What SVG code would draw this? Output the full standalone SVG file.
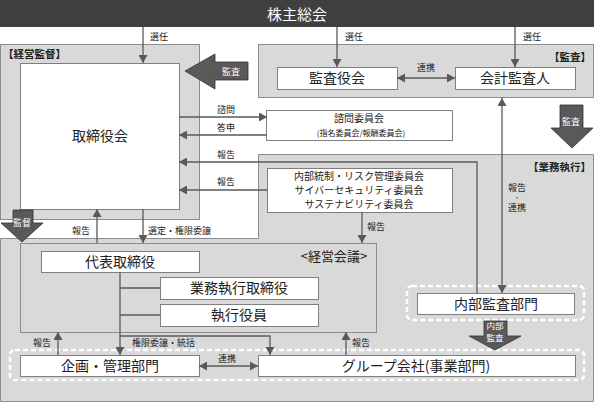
<svg xmlns="http://www.w3.org/2000/svg" width="595" height="403" viewBox="0 0 595 403">
<defs>
<marker id="ah" markerUnits="userSpaceOnUse" markerWidth="9" markerHeight="9" refX="8" refY="4.5" orient="auto-start-reverse"><path d="M0,0 L8,4.5 L0,9 z" fill="#595959"/></marker>
<style>
text{font-family:"Noto Sans CJK JP","Noto Sans",sans-serif;fill:#222;}
.grp{fill:#d9d9d9;stroke:#8c8c8c;stroke-width:1;}
.box{fill:#fff;stroke:#7f7f7f;stroke-width:1;}
.dash{fill:none;stroke:#fff;stroke-width:2.5;stroke-dasharray:5 3;}
.big{font-size:14px;text-anchor:middle;}
.sm{font-size:9px;}
.mid{font-size:10px;text-anchor:middle;}
.hdr{font-size:10.5px;font-weight:700;}
.con{fill:none;stroke:#595959;stroke-width:1.3;}
.blk{fill:#595959;stroke:#333;stroke-width:0.8;}
.wt{fill:#fff;font-size:9px;text-anchor:middle;}
</style>
</defs>
<rect width="595" height="403" fill="#fff"/>
<g id="shareholders">
<rect x="0" y="0" width="594" height="27" fill="#404040"/>
<text x="297" y="20" style="fill:#fff;font-size:15px;text-anchor:middle">株主総会</text>
</g>
<g id="supervision">
<rect class="grp" x="0.5" y="44.5" width="199" height="175"/>
<text class="hdr" x="3" y="58">【経営監督】</text>
</g>
<g id="audit">
<rect class="grp" x="258.5" y="44.5" width="335" height="53"/>
<text class="hdr" x="591" y="61" style="text-anchor:end">【監査】</text>
</g>
<g id="execution">
<path class="grp" d="M258.5,154.5 H593.5 V401.5 H0.5 V238.5 H258.5 Z"/>
<text class="hdr" x="591" y="171" style="text-anchor:end">【業務執行】</text>
</g>
<g id="board">
<rect class="box" x="20.5" y="63.5" width="159" height="146"/>
<text class="big" x="100" y="141">取締役会</text>
</g>
<g id="auditboard">
<rect class="box" x="277.5" y="67.5" width="120" height="22"/>
<text class="big" x="337" y="83">監査役会</text>
</g>
<g id="accountant">
<rect class="box" x="455.5" y="67.5" width="120" height="22"/>
<text class="big" x="515" y="83">会計監査人</text>
</g>
<g id="advisory">
<rect class="box" x="266.5" y="110.5" width="186" height="30"/>
<text class="mid" x="359" y="122">諮問委員会</text>
<text x="361" y="136" style="font-size:8px;text-anchor:middle">(指名委員会/報酬委員会)</text>
</g>
<g id="committees">
<rect class="box" x="267.5" y="168.5" width="185" height="44"/>
<text class="mid" x="359" y="180">内部統制・リスク管理委員会</text>
<text class="mid" x="359" y="194">サイバーセキュリティ委員会</text>
<text class="mid" x="359" y="208">サステナビリティ委員会</text>
</g>
<g id="mgmtmeeting">
<rect class="grp" x="20.5" y="243.5" width="356" height="89"/>
<text x="334" y="261" style="font-size:13px;text-anchor:middle">&lt;経営会議&gt;</text>
</g>
<g id="president">
<rect class="box" x="41.5" y="251.5" width="158" height="21"/>
<text class="big" x="120" y="267">代表取締役</text>
</g>
<g id="execdirector">
<rect class="box" x="160.5" y="277.5" width="158" height="22"/>
<text class="big" x="239" y="293">業務執行取締役</text>
</g>
<g id="officer">
<rect class="box" x="160.5" y="304.5" width="158" height="22"/>
<text class="big" x="239" y="320">執行役員</text>
</g>
<g id="internalaudit">
<rect class="dash" x="407" y="286" width="177" height="34" rx="5"/>
<rect class="box" x="417.5" y="293.5" width="157" height="21"/>
<text class="big" x="496" y="309">内部監査部門</text>
</g>
<g id="bottomgroup">
<rect class="dash" x="10" y="350" width="574" height="30" rx="5"/>
</g>
<g id="planning">
<rect class="box" x="20.5" y="355.5" width="179" height="21"/>
<text class="big" x="110" y="371">企画・管理部門</text>
</g>
<g id="groupco">
<rect class="box" x="258.5" y="355.5" width="317" height="21"/>
<text class="big" x="416" y="371">グループ会社(事業部門)</text>
</g>
<g id="blockarrows">
<path class="blk" d="M185,71 L215,54 V62 H248 V80 H215 V89 Z"/>
<text class="wt" x="231" y="75">監査</text>
<path class="blk" d="M560,105 H583 V128 H593 L572,148 L551,128 H560 Z"/>
<text class="wt" x="571" y="125">監査</text>
<path class="blk" d="M13,210 H33 V223 H43 L22,242 L1,223 H13 Z"/>
<text class="wt" x="22" y="226">監督</text>
<path class="blk" d="M484,321 H507 V336 H521 L495,350 L469,336 H484 Z"/>
<text class="wt" x="495" y="329" style="font-size:8.5px">内部</text>
<text class="wt" x="495" y="341" style="font-size:8.5px">監査</text>
</g>
<g id="connectors">
<path class="con" d="M143,27 V63" marker-end="url(#ah)"/>
<path class="con" d="M337,27 V67" marker-end="url(#ah)"/>
<path class="con" d="M515,27 V67" marker-end="url(#ah)"/>
<path class="con" d="M397,78 H455" marker-start="url(#ah)" marker-end="url(#ah)"/>
<path class="con" d="M179,117 H267" marker-end="url(#ah)"/>
<path class="con" d="M267,135 H179" marker-end="url(#ah)"/>
<path class="con" d="M477,293 V162 H179" marker-end="url(#ah)"/>
<path class="con" d="M267,190 H179" marker-end="url(#ah)"/>
<path class="con" d="M502,98 V293" marker-start="url(#ah)" marker-end="url(#ah)"/>
<path class="con" d="M362,212 V243" marker-end="url(#ah)"/>
<path class="con" d="M97,243 V209" marker-end="url(#ah)"/>
<path class="con" d="M143,209 V243" marker-end="url(#ah)"/>
<path class="con" d="M120,272 V355" marker-end="url(#ah)"/>
<path class="con" d="M120,288 H160 M120,315 H160"/>
<path class="con" d="M120,336 H270 V355" marker-end="url(#ah)"/>
<path class="con" d="M58,355 V332" marker-end="url(#ah)"/>
<path class="con" d="M346,355 V332" marker-end="url(#ah)"/>
<path class="con" d="M199,366 H258" marker-start="url(#ah)" marker-end="url(#ah)"/>
<text class="sm" x="150" y="40">選任</text>
<text class="sm" x="345" y="40">選任</text>
<text class="sm" x="523" y="40">選任</text>
<text class="sm" x="417" y="71">連携</text>
<text class="sm" x="217" y="113">諮問</text>
<text class="sm" x="217" y="131">答申</text>
<text class="sm" x="217" y="158">報告</text>
<text class="sm" x="217" y="185">報告</text>
<text class="sm" x="508" y="191">報告</text>
<text x="514" y="200" style="font-size:6px">・</text>
<text class="sm" x="508" y="211">連携</text>
<text class="sm" x="367" y="230">報告</text>
<text class="sm" x="72" y="234">報告</text>
<text class="sm" x="148" y="234">選定・権限委譲</text>
<text class="sm" x="132" y="346">権限委譲・統括</text>
<text class="sm" x="33" y="346">報告</text>
<text class="sm" x="352" y="346">報告</text>
<text class="sm" x="218" y="362">連携</text>
</g>
</svg>
